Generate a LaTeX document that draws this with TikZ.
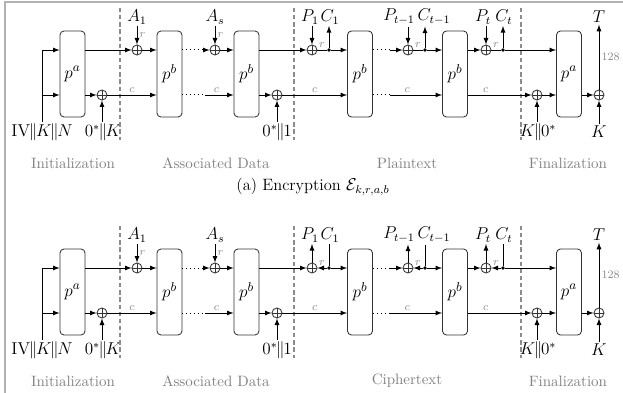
\documentclass[tikz,border=0pt]{standalone}
\usepackage{tikz}
\tikzstyle{perm}=[shape=rectangle,
                  rounded corners=2.8pt,
                  draw=black!80,
                  minimum width=17.5pt,
                  minimum height=60.2pt,
                  inner sep=0pt,
                  font=\fontsize{12.5}{15}\selectfont]
\tikzstyle{xor}=[shape=circle,
                 draw=black!80,
                 minimum size=7pt,
                 inner sep=0pt,
                 path picture={\draw[black!80]
                   (path picture bounding box.north) -- (path picture bounding box.south)
                   (path picture bounding box.west) -- (path picture bounding box.east);}]
\tikzstyle{dot}=[shape=circle, fill=black, inner sep=0pt, minimum size=2.6pt]
\tikzstyle{io}=[inner sep=1pt, font=\fontsize{12}{14}\selectfont]
\tikzstyle{key}=[inner sep=1pt, font=\fontsize{11.5}{14}\selectfont]
\tikzstyle{sm}=[text=black!45, font=\footnotesize, inner sep=1.5pt]
\tikzstyle{phase}=[text=black!50]
\tikzstyle{sep}=[draw=black!45, line width=1pt, dash pattern=on 3pt off 2pt]
\tikzstyle{dots}=[line width=0.7pt, dash pattern=on 0.7pt off 2.1pt]

\begin{document}
\begin{tikzpicture}[x=0.7pt,y=-0.7pt,>=latex,semithick,
                    font=\fontsize{10.5}{12.6}\selectfont]
\useasboundingbox (0,0) rectangle (623,393);

% frame
\draw[black!30, line width=1.4pt] (5,393) -- (5,2.5) -- (623,2.5);

%%% encryption
\begin{scope}
% permutations
\node[perm] (pa1) at (72.5,74)  {$p^a$};
\node[perm] (pb1) at (169.5,74) {$p^b$};
\node[perm] (pb2) at (246.5,74) {$p^b$};
\node[perm] (pb3) at (360,74)   {$p^b$};
\node[perm] (pb4) at (455,74)   {$p^b$};
\node[perm] (pa2) at (569,74)   {$p^a$};

% xor gates
\node[xor] (xa1) at (137,50) {};
\node[xor] (xas) at (215,50) {};
\node[xor] (xp1) at (312,50) {};
\node[xor] (xpu) at (408,50) {};
\node[xor] (xpt) at (486,50) {};
\node[xor] (xk1) at (102,95) {};
\node[xor] (x01) at (277,95) {};
\node[xor] (xk2) at (537,95) {};
\node[xor] (xk3) at (599,95) {};

% branch points
\node[dot] (d1) at (329,50) {};
\node[dot] (du) at (425,50) {};
\node[dot] (dt) at (503,50) {};
\coordinate (m1) at (205,50);
\coordinate (m2) at (205,95);
\coordinate (m3) at (390,50);
\coordinate (m4) at (390,95);

% inputs and outputs
\node[key] (iv) at (42,132)  {$\mathrm{IV}\mkern-1.5mu\|\mkern-1.5mu K\mkern-1.5mu\|\mkern-1.5mu N$};
\node[key] (zk) at (103,132) {$0^*\mkern-1.5mu\|\mkern-1.5mu K$};
\node[key] (z1) at (277,132) {$0^*\mkern-1.5mu\|\mkern-1.5mu 1$};
\node[key] (kz) at (538,132) {$K\mkern-1.5mu\|\mkern-1.5mu 0^*$};
\node[io] (kk) at (599,132) {$K$};
\node[io] (a1) at (137,17)  {$A_1$};
\node[io] (as) at (215,17)  {$A_s$};
\node[io] (p1) at (310,17)  {$P_1$};
\node[io] (c1) at (330,17)  {$C_1$};
\node[io] (pu) at (399,17)  {$P_{t-1}$};
\node[io] (cu) at (434,17)  {$C_{t-1}$};
\node[io] (pt) at (483,17)  {$P_t$};
\node[io] (ct) at (504,17)  {$C_t$};
\node[io] (tt) at (599,17)  {$T$};

% phases
\draw[sep] (120,8) -- (120,140);
\draw[sep] (294,8) -- (294,140);
\draw[sep] (521,8) -- (521,140);
\node[phase] (ini) at (73,163)  {Initialization};
\node[phase] (ad)  at (216,163) {Associated Data};
\node[phase] (pl)  at (407,163) {Plaintext};
\node[phase] (fin) at (568,163) {Finalization};

% initialization
\draw[->] (iv) |- (pa1.west |- xa1);
\draw[->] (iv.north |- xk1) -- (pa1.west |- xk1);
\draw[->] (pa1.east |- xa1) -- (xa1);
\draw[->] (pa1.east |- xk1) -- (xk1);
\draw[->] (xk1 |- zk.north) -- (xk1);
\draw[->] (xk1) -- node[sm, above] {$c$} (pb1.west |- xk1);

% associated data
\draw[->] (xa1 |- a1.south) -- node[sm, right] {$r$} (xa1);
\draw[->] (xa1) -- (pb1.west |- xa1);
\draw[dots] (pb1.east |- xa1) -- (m1);
\draw[->] (m1) -- (xas);
\draw[dots] (pb1.east |- xk1) -- (m2);
\draw[->] (m2) -- node[sm, above, pos=0.4] {$c$} (pb2.west |- xk1);
\draw[->] (xas |- as.south) -- node[sm, right] {$r$} (xas);
\draw[->] (xas) -- (pb2.west |- xas);
\draw[->] (pb2.east |- x01) -- (x01);
\draw[->] (z1) -- (x01);
\draw[->] (x01) -- node[sm, above] {$c$} (pb3.west |- x01);

% plaintext
\draw[->] (pb2.east |- xp1) -- (xp1);
\draw[->] (xp1 |- p1.south) -- (xp1);
\draw (xp1) -- node[sm, above] {$r$} (d1);
\draw[->] (d1) -- (d1 |- c1.south);
\draw[->] (d1) -- (pb3.west |- d1);
\draw[dots] (pb3.east |- xpu) -- (m3);
\draw[->] (m3) -- (xpu);
\draw[dots] (pb3.east |- x01) -- (m4);
\draw[->] (m4) -- node[sm, above, pos=0.33] {$c$} (pb4.west |- x01);
\draw[->] (xpu |- pu.south) -- (xpu);
\draw (xpu) -- node[sm, above] {$r$} (du);
\draw[->] (du) -- (du |- cu.south);
\draw[->] (du) -- (pb4.west |- du);
\draw[->] (pb4.east |- xpt) -- (xpt);
\draw[->] (xpt |- pt.south) -- (xpt);
\draw (xpt) -- node[sm, above] {$r$} (dt);
\draw[->] (dt) -- (dt |- ct.south);
\draw[->] (dt) -- (pa2.west |- dt);
\draw[->] (pb4.east |- xk2) -- node[sm, above, pos=0.28] {$c$} (xk2);

% finalization
\draw[->] (xk2 |- kz.north) -- (xk2);
\draw[->] (xk2) -- (pa2.west |- xk2);
\draw[->] (pa2.east |- xk3) -- (xk3);
\draw[->] (kk) -- (xk3);
\draw[->] (xk3) -- node[sm, right] {$128$} (tt);
\end{scope}

\node[font=\fontsize{11.5}{14}\selectfont] (cap) at (313,187)
  {(a) Encryption $\mathcal{E}_{k,r,a,b}$};

%%% decryption
\begin{scope}[shift={(0,218)}]
% permutations
\node[perm] (pa1) at (72.5,74)  {$p^a$};
\node[perm] (pb1) at (169.5,74) {$p^b$};
\node[perm] (pb2) at (246.5,74) {$p^b$};
\node[perm] (pb3) at (360,74)   {$p^b$};
\node[perm] (pb4) at (455,74)   {$p^b$};
\node[perm] (pa2) at (569,74)   {$p^a$};

% xor gates
\node[xor] (xa1) at (137,50) {};
\node[xor] (xas) at (215,50) {};
\node[xor] (xp1) at (312,50) {};
\node[xor] (xpu) at (408,50) {};
\node[xor] (xpt) at (486,50) {};
\node[xor] (xk1) at (102,95) {};
\node[xor] (x01) at (277,95) {};
\node[xor] (xk2) at (537,95) {};
\node[xor] (xk3) at (599,95) {};

% branch points
\node[dot] (d1) at (329,50) {};
\node[dot] (du) at (425,50) {};
\node[dot] (dt) at (503,50) {};
\coordinate (m1) at (205,50);
\coordinate (m2) at (205,95);
\coordinate (m3) at (390,50);
\coordinate (m4) at (390,95);

% inputs and outputs
\node[key] (iv) at (42,132)  {$\mathrm{IV}\mkern-1.5mu\|\mkern-1.5mu K\mkern-1.5mu\|\mkern-1.5mu N$};
\node[key] (zk) at (103,132) {$0^*\mkern-1.5mu\|\mkern-1.5mu K$};
\node[key] (z1) at (277,132) {$0^*\mkern-1.5mu\|\mkern-1.5mu 1$};
\node[key] (kz) at (538,132) {$K\mkern-1.5mu\|\mkern-1.5mu 0^*$};
\node[io] (kk) at (599,132) {$K$};
\node[io] (a1) at (137,17)  {$A_1$};
\node[io] (as) at (215,17)  {$A_s$};
\node[io] (p1) at (310,17)  {$P_1$};
\node[io] (c1) at (330,17)  {$C_1$};
\node[io] (pu) at (399,17)  {$P_{t-1}$};
\node[io] (cu) at (434,17)  {$C_{t-1}$};
\node[io] (pt) at (483,17)  {$P_t$};
\node[io] (ct) at (504,17)  {$C_t$};
\node[io] (tt) at (599,17)  {$T$};

% phases
\draw[sep] (120,8) -- (120,140);
\draw[sep] (294,8) -- (294,140);
\draw[sep] (521,8) -- (521,140);
\node[phase] (ini) at (73,163)  {Initialization};
\node[phase] (ad)  at (216,163) {Associated Data};
\node[phase] (ci)  at (407,163) {Ciphertext};
\node[phase] (fin) at (568,163) {Finalization};

% initialization
\draw[->] (iv) |- (pa1.west |- xa1);
\draw[->] (iv.north |- xk1) -- (pa1.west |- xk1);
\draw[->] (pa1.east |- xa1) -- (xa1);
\draw[->] (pa1.east |- xk1) -- (xk1);
\draw[->] (xk1 |- zk.north) -- (xk1);
\draw[->] (xk1) -- node[sm, above] {$c$} (pb1.west |- xk1);

% associated data
\draw[->] (xa1 |- a1.south) -- node[sm, right] {$r$} (xa1);
\draw[->] (xa1) -- (pb1.west |- xa1);
\draw[dots] (pb1.east |- xa1) -- (m1);
\draw[->] (m1) -- (xas);
\draw[dots] (pb1.east |- xk1) -- (m2);
\draw[->] (m2) -- node[sm, above, pos=0.4] {$c$} (pb2.west |- xk1);
\draw[->] (xas |- as.south) -- node[sm, right] {$r$} (xas);
\draw[->] (xas) -- (pb2.west |- xas);
\draw[->] (pb2.east |- x01) -- (x01);
\draw[->] (z1) -- (x01);
\draw[->] (x01) -- node[sm, above] {$c$} (pb3.west |- x01);

% ciphertext
\draw[->] (pb2.east |- xp1) -- (xp1);
\draw[->] (xp1) -- (xp1 |- p1.south);
\draw (d1 |- c1.south) -- (d1);
\draw[->] (d1) -- node[sm, above] {$r$} (xp1);
\draw[->] (d1) -- (pb3.west |- d1);
\draw[dots] (pb3.east |- xpu) -- (m3);
\draw[->] (m3) -- (xpu);
\draw[dots] (pb3.east |- x01) -- (m4);
\draw[->] (m4) -- node[sm, above, pos=0.33] {$c$} (pb4.west |- x01);
\draw[->] (xpu) -- (xpu |- pu.south);
\draw (du |- cu.south) -- (du);
\draw[->] (du) -- node[sm, above] {$r$} (xpu);
\draw[->] (du) -- (pb4.west |- du);
\draw[->] (pb4.east |- xpt) -- (xpt);
\draw[->] (xpt) -- (xpt |- pt.south);
\draw (dt |- ct.south) -- (dt);
\draw[->] (dt) -- node[sm, above] {$r$} (xpt);
\draw[->] (dt) -- (pa2.west |- dt);
\draw[->] (pb4.east |- xk2) -- node[sm, above, pos=0.28] {$c$} (xk2);

% finalization
\draw[->] (xk2 |- kz.north) -- (xk2);
\draw[->] (xk2) -- (pa2.west |- xk2);
\draw[->] (pa2.east |- xk3) -- (xk3);
\draw[->] (kk) -- (xk3);
\draw[->] (xk3) -- node[sm, right] {$128$} (tt);
\end{scope}

\end{tikzpicture}
\end{document}
